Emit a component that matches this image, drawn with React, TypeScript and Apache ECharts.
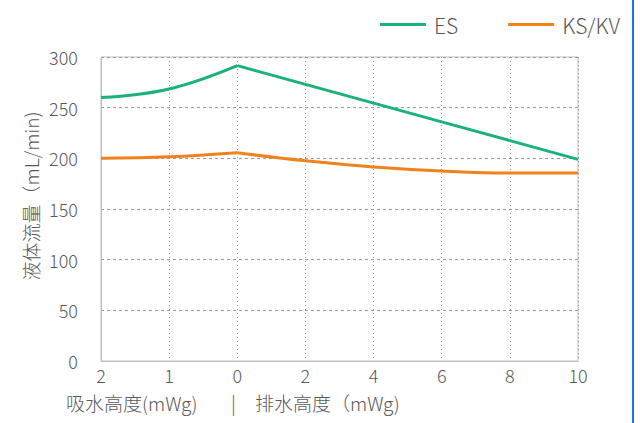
import React, { useEffect, useRef } from "react";
import * as echarts from "echarts";

const categories = ["2", "1", "0", "2", "4", "6", "8", "10"];
const esValues = [260, 268.5, 291.5, 273, 254.5, 236, 217.5, 199];
const ksValues = [200, 201.5, 205.5, 197.5, 191.5, 187.5, 185.5, 185.5];
const yTicks = { min: 0, max: 300, interval: 50 };

// split at the "0" category (index 2) so the peak stays sharp
const peak = 2;
const leftPart = (v: number[]) => v.map((d, i) => (i <= peak ? d : "-"));
const rightPart = (v: number[]) => v.map((d, i) => (i >= peak ? d : "-"));

export default function App() {
  const ref = useRef<HTMLDivElement>(null);
  useEffect(() => {
    const chart = echarts.init(ref.current!, null, { renderer: "svg" });
    const font = "'Noto Sans CJK SC', 'Noto Sans', sans-serif";
    const labelColor = "#595959";
    const green = "#19b27b";
    const orange = "#f0821e";
    const light = 300;
    chart.setOption({
      animation: false,
      textStyle: { fontFamily: font },
      legend: {
        right: 18,
        top: 9,
        icon: "rect",
        itemWidth: 46,
        itemHeight: 3,
        itemGap: 50,
        textStyle: { fontSize: 21, color: labelColor, fontFamily: font, fontWeight: light, padding: [0, 0, 0, 3] },
        data: [
          { name: "ES", itemStyle: { color: green } },
          { name: "KS/KV", itemStyle: { color: orange } },
        ],
      },
      grid: {
        left: 101,
        right: 65,
        top: 57,
        bottom: 62,
        show: true,
        borderColor: "#bfbfbf",
        borderWidth: 1,
      },
      xAxis: {
        type: "category",
        data: categories,
        boundaryGap: false,
        axisLine: { lineStyle: { color: "#bfbfbf" } },
        axisTick: { show: false },
        axisLabel: { color: labelColor, fontSize: 18, margin: 5, fontFamily: font, fontWeight: light },
        splitLine: { show: true, lineStyle: { color: "#999", type: [1, 3] } },
      },
      yAxis: {
        type: "value",
        min: yTicks.min,
        max: yTicks.max,
        interval: yTicks.interval,
        axisLine: { show: true, lineStyle: { color: "#bfbfbf" } },
        axisTick: { show: false },
        axisLabel: { color: labelColor, fontSize: 18, margin: 23, fontFamily: font, fontWeight: light },
        splitLine: { show: true, lineStyle: { color: "#999", type: [3, 3] } },
      },
      series: [
        {
          name: "ES",
          type: "line",
          data: leftPart(esValues),
          smooth: 0.4,
          showSymbol: false,
          lineStyle: { color: green, width: 3 },
          itemStyle: { color: green },
        },
        {
          name: "ES",
          type: "line",
          data: rightPart(esValues),
          smooth: false,
          showSymbol: false,
          lineStyle: { color: green, width: 3 },
          itemStyle: { color: green },
        },
        {
          name: "KS/KV",
          type: "line",
          data: leftPart(ksValues),
          smooth: 0.4,
          showSymbol: false,
          lineStyle: { color: orange, width: 3 },
          itemStyle: { color: orange },
        },
        {
          name: "KS/KV",
          type: "line",
          data: rightPart(ksValues),
          smooth: 0.4,
          showSymbol: false,
          lineStyle: { color: orange, width: 3 },
          itemStyle: { color: orange },
        },
      ],
      graphic: [
        {
          type: "text",
          x: 30,
          y: 196,
          rotation: Math.PI / 2,
          style: {
            text: "液体流量（mL/min)",
            fontSize: 19,
            fill: labelColor,
            fontFamily: font,
            fontWeight: light,
            align: "center",
            verticalAlign: "middle",
          },
        },
        {
          type: "text",
          left: 66,
          top: 393,
          style: { text: "吸水高度(mWg)", fontSize: 19, fill: labelColor, fontFamily: font, fontWeight: light },
        },
        {
          type: "text",
          left: 231,
          top: 393,
          style: { text: "|", fontSize: 19, fill: labelColor, fontFamily: font, fontWeight: light },
        },
        {
          type: "text",
          left: 255,
          top: 393,
          style: { text: "排水高度（mWg)", fontSize: 19, fill: labelColor, fontFamily: font, fontWeight: light },
        },
        {
          type: "rect",
          shape: { x: 632, y: 0, width: 2, height: 423 },
          style: { fill: "#1a73e8" },
        },
      ],
    });
    return () => chart.dispose();
  }, []);
  return (
    <div
      ref={ref}
      style={{ position: "fixed", left: 0, top: 0, width: 643, height: 423, background: "#fff" }}
    />
  );
}
